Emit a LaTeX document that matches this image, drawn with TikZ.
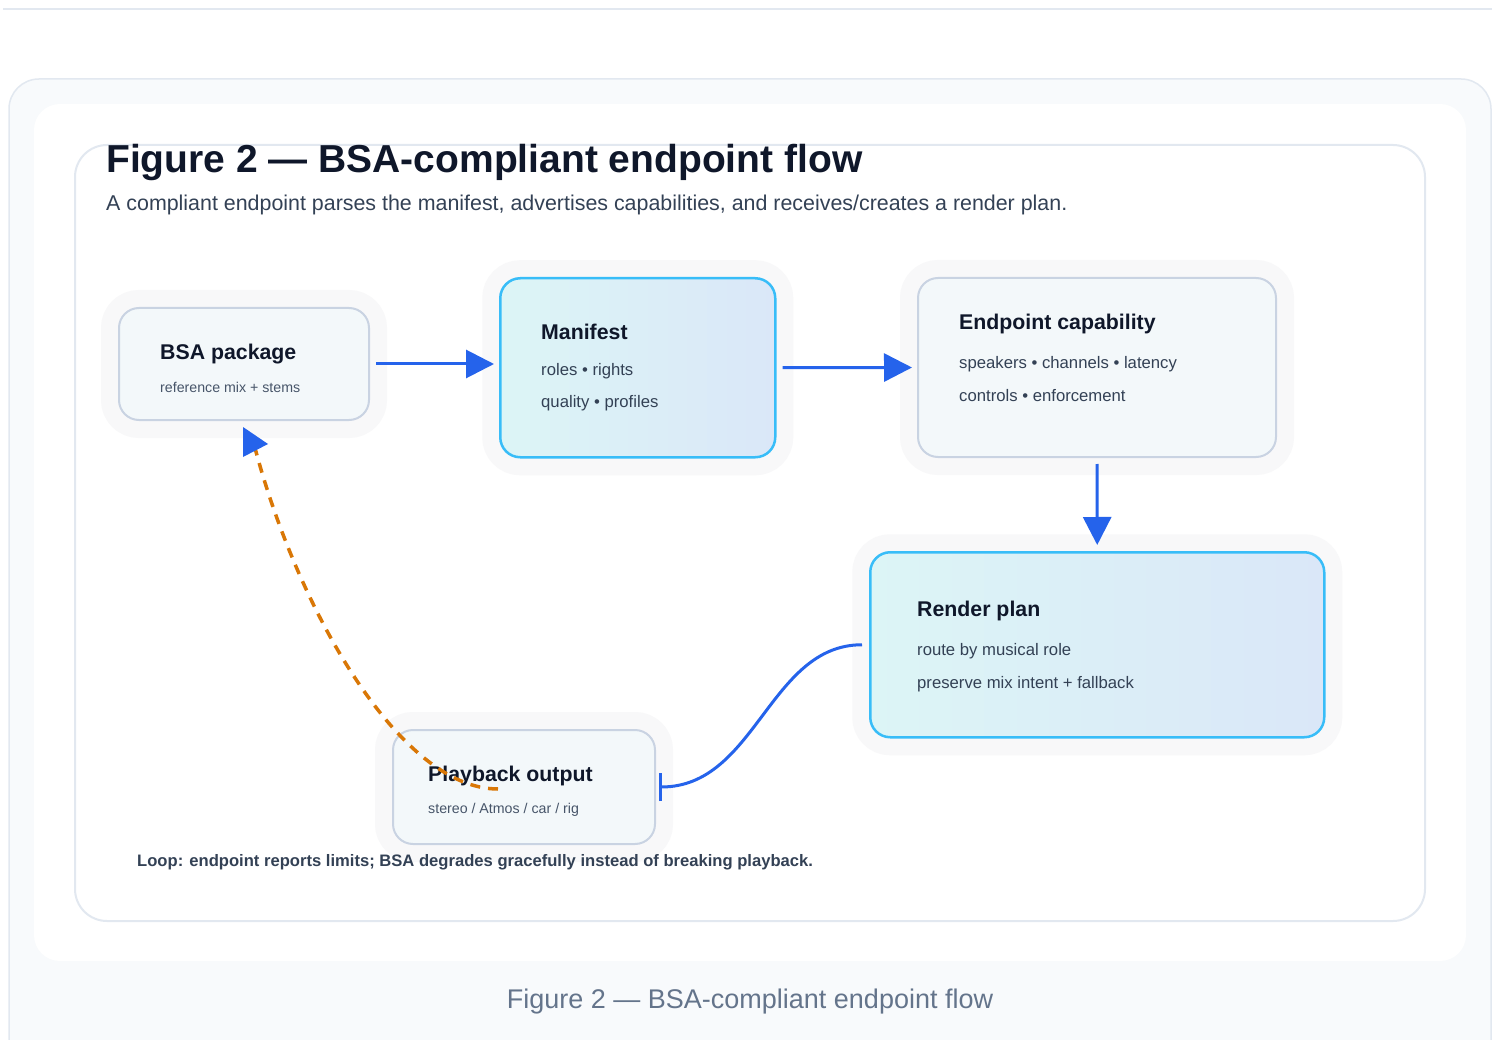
\documentclass[tikz,border=0pt]{standalone}
\usepackage{fontspec}
\setmainfont{Liberation Sans}
\usetikzlibrary{calc,arrows.meta}

\definecolor{linegray}{HTML}{E2E8F0}
\definecolor{cardbg}{HTML}{F8FAFC}
\definecolor{inkdark}{HTML}{0F172A}
\definecolor{inkbody}{HTML}{334155}
\definecolor{inkmuted}{HTML}{475569}
\definecolor{capgray}{HTML}{64748B}
\definecolor{boxfill}{HTML}{F3F8FA}
\definecolor{boxline}{HTML}{C9D3E2}
\definecolor{skyline}{HTML}{38BDF8}
\definecolor{cyanfill}{HTML}{DCF5F6}
\definecolor{bluefill}{HTML}{DAE7F8}
\definecolor{flowblue}{HTML}{2563EB}
\definecolor{loopamber}{HTML}{D97706}
\definecolor{halo}{HTML}{F8F8F9}

\tikzset{
  plainbox/.style={draw=boxline, line width=2, fill=boxfill, rounded corners=20,
    preaction={draw=halo, line width=36}, anchor=north west, inner sep=0},
  keybox/.style={draw=skyline, line width=2.5, left color=cyanfill, right color=bluefill,
    rounded corners=20, preaction={draw=halo, line width=36}, anchor=north west, inner sep=0},
  boxtitle/.style={anchor=base west, inner sep=0, text=inkdark, font=\fontsize{21.3}{25}\selectfont\bfseries},
  boxline/.style={anchor=base west, inner sep=0, text=inkbody, font=\fontsize{16.7}{20}\selectfont},
  boxsmall/.style={anchor=base west, inner sep=0, text=inkmuted, font=\fontsize{14.2}{17}\selectfont},
  flow/.style={draw=flowblue, line width=3, -{Triangle[length=28, width=28]}},
}

\begin{document}
\begin{tikzpicture}[x=1pt, y=-1pt]
  \useasboundingbox (0,0) rectangle (1499,1040);
  \clip (0,0) rectangle (1499,1040);
  \fill[white] (0,0) rectangle (1499,1040);

  % page furniture
  \draw[linegray, line width=2] (3,9) -- (1492,9);
  \draw[linegray, line width=1.5, fill=cardbg, rounded corners=30] (9,79) rectangle (1491,1080);
  \fill[white, rounded corners=26] (34,104) rectangle (1466,961);
  \draw[linegray, line width=2, rounded corners=32] (75,145) rectangle (1425,921);

  \node[anchor=base west, inner sep=0, text=inkdark, font=\fontsize{39}{47}\selectfont\bfseries]
    (title) at (106,173) {Figure 2 — BSA-compliant endpoint flow};
  \node[anchor=base west, inner sep=0, text=inkbody, font=\fontsize{21.4}{25}\selectfont]
    (subtitle) at (106,211) {A compliant endpoint parses the manifest, advertises capabilities, and receives/creates a render plan.};

  % boxes
  \node[plainbox, minimum width=250, minimum height=112] (bsa) at (118,307) {};
  \node[keybox, minimum width=275, minimum height=179] (manifest) at (499,277) {};
  \node[plainbox, minimum width=358, minimum height=179] (endpoint) at (917,277) {};
  \node[keybox, minimum width=454, minimum height=185] (render) at (869,551) {};
  \node[plainbox, minimum width=262, minimum height=114] (playback) at (392,729) {};

  % box texts
  \node[boxtitle] (bsatitle) at (160,360) {BSA package};
  \node[boxsmall] (bsatext) at (160,392) {reference mix + stems};

  \node[boxtitle] (mantitle) at (541,340) {Manifest};
  \node[boxline] (mantexta) at (541,376) {roles • rights};
  \node[boxline] (mantextb) at (541,407) {quality • profiles};

  \node[boxtitle] (eptitle) at (959,330) {Endpoint capability};
  \node[boxline] (eptexta) at (959,369) {speakers • channels • latency};
  \node[boxline] (eptextb) at (959,402) {controls • enforcement};

  \node[boxtitle] (rptitle) at (917,616) {Render plan};
  \node[boxline] (rptexta) at (917,655) {route by musical role};
  \node[boxline] (rptextb) at (917,688) {preserve mix intent + fallback};

  \node[boxtitle] (pbtitle) at (428,781) {Playback output};
  \node[boxsmall] (pbtext) at (428,813) {stereo / Atmos / car / rig};

  % connectors
  \draw[flow, shorten <=6, shorten >=5] (bsa.east) -- (bsa.east -| manifest.west);
  \draw[flow, shorten <=6, shorten >=5] (manifest.east) -- (endpoint.west);
  \draw[flow, shorten <=6, shorten >=6] (endpoint.south) -- (render.north);
  \draw[draw=flowblue, line width=3, -{Bar[width=28, line width=3]}, shorten <=7, shorten >=3]
    (render.west) .. controls +(-100,0) and +(100,0) .. (playback.east);

  % feedback loop
  \coordinate (loopstart) at (498,789);
  \coordinate (loophead) at (255,448);
  \draw[loopamber, line width=3.5, dash pattern=on 10 off 8]
    (loopstart) .. controls (400,789) and (298,610) .. (loophead);
  \fill[flowblue] (loophead) ++(-12,-21) -- ++(0,30) -- ++(25,-13) -- cycle;

  \node[anchor=base west, inner sep=0, text=inkbody, font=\fontsize{16.6}{20}\selectfont\bfseries]
    (loopnote) at (137,866) {Loop: endpoint reports limits; BSA degrades gracefully instead of breaking playback.};

  \node[anchor=base, inner sep=0, text=capgray, font=\fontsize{27}{32}\selectfont]
    (caption) at (750,1008) {Figure 2 — BSA-compliant endpoint flow};
\end{tikzpicture}
\end{document}
